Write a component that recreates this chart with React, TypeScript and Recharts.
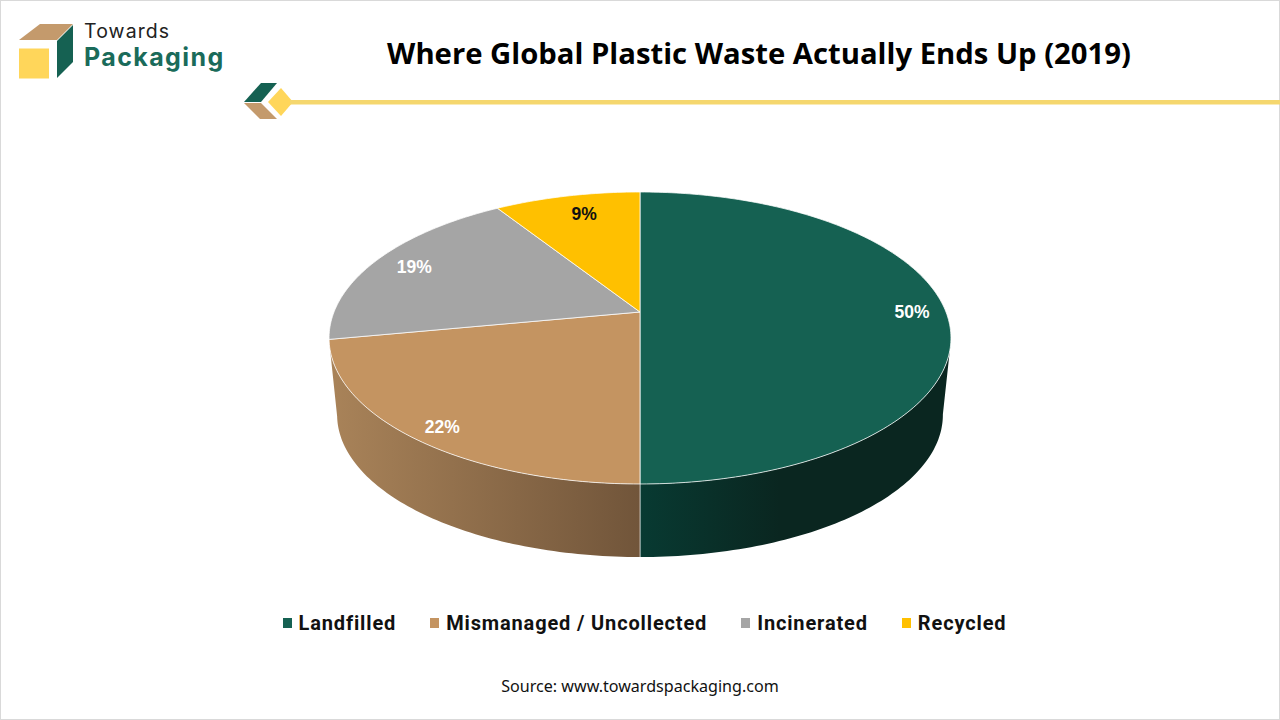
import React from 'react';
import { PieChart, Pie, Legend } from 'recharts';

const categories = ['Landfilled', 'Mismanaged / Uncollected', 'Incinerated', 'Recycled'];
const shares = [50, 22, 19, 9];
const fills = ['#156152', '#C49461', '#A5A5A5', '#FFC000'];
const wallGradients = ['wallGreen', 'wallBrown', '', ''];

const pieData = categories.map((name, i) => ({ name, value: shares[i], fill: fills[i], wall: wallGradients[i] }));

// the pie is a flat disc seen in perspective: far edge shrinks, near edge grows
const TILT = 0.462;
const PERSPECTIVE = 0.178;
const DEPTH_OFFSET = 77.5;
const BOTTOM_SCALE = 0.974;
// how far out each % label sits, plus a small hand nudge
const labelRadius = [0.889, 0.89, 0.86, 0.78];
const labelNudge = [[0, 0], [0, 5], [2, 1], [3, -5]];

const project = (cx: number, cy: number, R: number, deg: number, r = 1) => {
  const t = (deg * Math.PI) / 180;
  const w = 1 + PERSPECTIVE * r * Math.cos(t);
  return { x: cx + (R * r * Math.sin(t)) / w, y: cy - (R * TILT * r * Math.cos(t)) / w };
};

const bottomRim = (cx: number, cy: number, R: number, deg: number) => {
  const p = project(cx, 0, R * BOTTOM_SCALE, deg);
  return { x: p.x, y: cy + DEPTH_OFFSET + p.y };
};

const arcPoints = (from: number, to: number, fn: (d: number) => { x: number; y: number }) => {
  const pts = [];
  const n = Math.max(2, Math.ceil(Math.abs(to - from)));
  for (let i = 0; i <= n; i++) pts.push(fn(from + ((to - from) * i) / n));
  return pts;
};

const toPath = (pts: { x: number; y: number }[]) =>
  pts.map((p, i) => `${i ? 'L' : 'M'}${p.x.toFixed(2)},${p.y.toFixed(2)}`).join(' ');

const TiltedSlice = (props: any) => {
  const { cx, cy, outerRadius: R, startAngle, endAngle, fill, wall } = props;
  // recharts angles run counter-clockwise from 3 o'clock, turn them into clockwise from 12
  const a0 = 90 - startAngle;
  const a1 = 90 - endAngle;
  const rim = arcPoints(a0, a1, (d) => project(cx, cy, R, d));
  const top = `M${cx},${cy} ${toPath(rim).replace('M', 'L')} Z`;

  let side = null;
  if (wall) {
    const topFrom = Math.max(a0, 105);
    const topTo = Math.min(a1, 255);
    const botFrom = Math.max(a0, 100);
    const botTo = Math.min(a1, 260);
    const upper = arcPoints(topFrom, topTo, (d) => project(cx, cy, R, d));
    const lower = arcPoints(botTo, botFrom, (d) => bottomRim(cx, cy, R, d));
    // the seam at the very front of the disc
    const seamTop = project(cx, cy, R, 180);
    const seamBottom = bottomRim(cx, cy, R, 180);
    side = (
      <g>
        <path d={`${toPath(upper)} ${toPath(lower).replace('M', 'L')} Z`} fill={`url(#${wall})`} />
        <line x1={seamTop.x} y1={seamTop.y} x2={seamBottom.x} y2={seamBottom.y} stroke="#ffffff" strokeOpacity={0.55} />
      </g>
    );
  }

  return (
    <g>
      {side}
      <path d={top} fill={fill} stroke="#ffffff" strokeOpacity={0.75} strokeWidth={1} />
    </g>
  );
};

const renderPct = (props: any) => {
  const { cx, cy, outerRadius, midAngle, index, value } = props;
  const p = project(cx, cy, outerRadius, 90 - midAngle, labelRadius[index]);
  return (
    <text
      x={p.x + labelNudge[index][0]}
      y={p.y + labelNudge[index][1]}
      fill={index === 3 ? '#111111' : '#ffffff'}
      textAnchor="middle"
      dominantBaseline="central"
      style={{ fontFamily: 'Liberation Sans', fontSize: 17.5, fontWeight: 700 }}
    >
      {value}%
    </text>
  );
};

const LegendRow = ({ payload }: any) => (
  <div style={{ display: 'flex', justifyContent: 'center', alignItems: 'center', gap: 34, fontFamily: 'Roboto', fontWeight: 700, fontSize: 20, letterSpacing: 0.85, color: '#111' }}>
    {(payload || []).map((it: any) => (
      <span key={it.value} style={{ display: 'flex', alignItems: 'center' }}>
        <span style={{ width: 9, height: 10, background: it.color, marginRight: 7 }} />
        {it.value}
      </span>
    ))}
  </div>
);

const Logo = () => (
  <svg width={1280} height={130} style={{ position: 'absolute', left: 0, top: 0 }}>
    <polygon points="19,40 40,24 73,24 57,40" fill="#C49A6C" />
    <polygon points="57,41 73,25 73,62 57,78" fill="#156152" />
    <rect x={19} y={48.5} width={30} height={30} fill="#FFD65A" />
    <text x={84} y={38} style={{ fontFamily: 'Inter', fontSize: 19.5, letterSpacing: 1.1 }} fill="#222">Towards</text>
    <text x={84} y={66} style={{ fontFamily: 'Inter', fontSize: 25, fontWeight: 700, letterSpacing: 1.4 }} fill="#1A6B5A">Packaging</text>
    <polygon points="244,102 261,83 277,83 261,102" fill="#156152" />
    <polygon points="244,103 261,103 277,119 260,119" fill="#C49A6C" />
    <polygon points="281,88 293,102 281,116 268,102" fill="#FFD65A" />
    <rect x={290} y={100} width={990} height={4.5} fill="#F5D76E" />
  </svg>
);

export default function App() {
  return (
    <div style={{ position: 'absolute', left: 0, top: 0, width: 1280, height: 720, background: '#fff', overflow: 'hidden' }}>
      <div style={{ position: 'absolute', inset: 0, border: '1px solid #d9d9d9', boxSizing: 'border-box' }} />
      <Logo />
      <div style={{ position: 'absolute', left: 0, width: 1518, top: 33, textAlign: 'center', fontFamily: 'Open Sans', fontWeight: 700, fontSize: 29.25, color: '#000', whiteSpace: 'nowrap' }}>
        Where Global Plastic Waste Actually Ends Up (2019)
      </div>
      <PieChart width={1280} height={720} margin={{ top: 0, right: 0, bottom: 0, left: 0 }} style={{ position: 'absolute', left: 0, top: 0 }}>
        <defs>
          <linearGradient id="wallGreen" x1="0" x2="1" y1="0" y2="0">
            <stop offset="0" stopColor="#083A32" />
            <stop offset="0.45" stopColor="#0A2620" />
            <stop offset="1" stopColor="#0A2620" />
          </linearGradient>
          <linearGradient id="wallBrown" x1="0" x2="1" y1="0" y2="0">
            <stop offset="0" stopColor="#A98359" />
            <stop offset="1" stopColor="#71553A" />
          </linearGradient>
        </defs>
        <Pie
          data={pieData}
          dataKey="value"
          nameKey="name"
          cx={640}
          cy={312}
          outerRadius={306}
          startAngle={90}
          endAngle={-270}
          stroke="none"
          shape={TiltedSlice}
          label={renderPct}
          labelLine={false}
          isAnimationActive={false}
        />
        <Legend content={<LegendRow />} verticalAlign="bottom" itemSorter={null} wrapperStyle={{ top: 611, bottom: 'auto', left: 0, width: 1289 }} />
      </PieChart>
      <div style={{ position: 'absolute', left: 0, width: 1280, top: 675, textAlign: 'center', fontFamily: 'Noto Sans', fontSize: 16.1, color: '#111' }}>
        Source: www.towardspackaging.com
      </div>
    </div>
  );
}
